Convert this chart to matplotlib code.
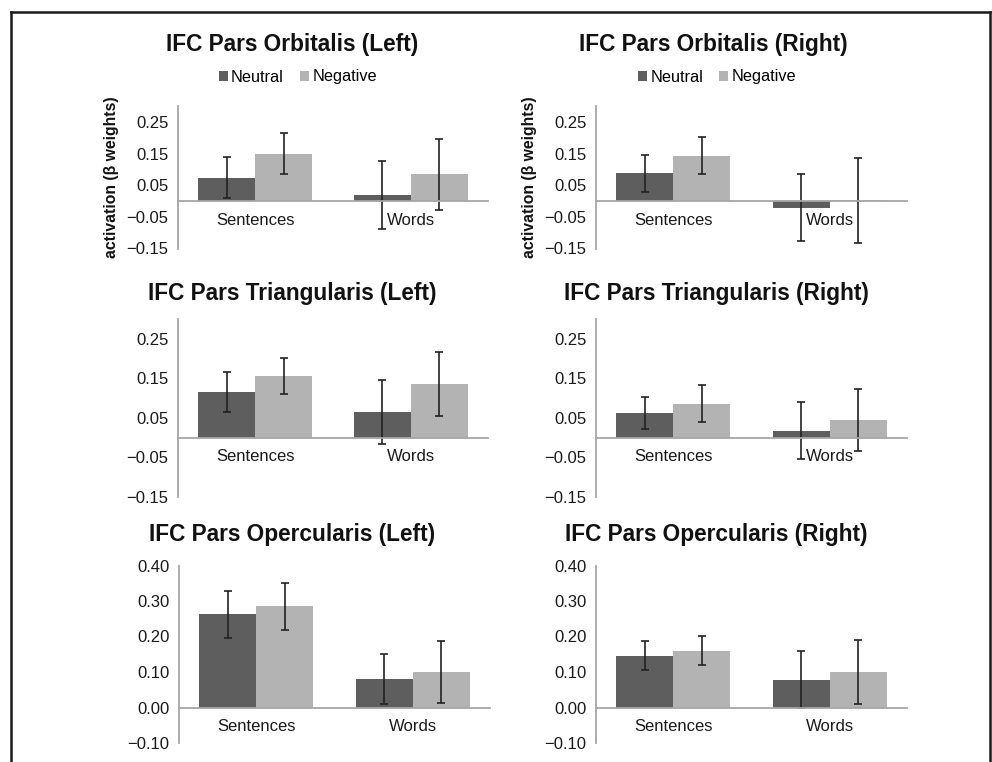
import numpy as np
import matplotlib
matplotlib.use('Agg')
import matplotlib.pyplot as plt
from matplotlib.lines import Line2D
from matplotlib.ticker import FuncFormatter

plt.rcParams['font.family'] = ['Liberation Sans', 'DejaVu Sans']

# data, panel order: TL, TR, ML, MR, BL, BR
categories = ['Sentences', 'Words']
titles = ['IFC Pars Orbitalis (Left)', 'IFC Pars Orbitalis (Right)',
          'IFC Pars Triangularis (Left)', 'IFC Pars Triangularis (Right)',
          'IFC Pars Opercularis (Left)', 'IFC Pars Opercularis (Right)']
neutral_mean = [[0.073, 0.018], [0.087, -0.021], [0.116, 0.065],
                [0.062, 0.018], [0.262, 0.080], [0.146, 0.078]]
neutral_err = [[0.065, 0.107], [0.059, 0.106], [0.051, 0.080],
               [0.040, 0.071], [0.066, 0.071], [0.041, 0.080]]
negative_mean = [[0.150, 0.084], [0.143, 0.002], [0.156, 0.136],
                 [0.086, 0.045], [0.285, 0.100], [0.160, 0.100]]
negative_err = [[0.066, 0.113], [0.059, 0.135], [0.045, 0.081],
                [0.046, 0.079], [0.066, 0.086], [0.041, 0.089]]
yticks_small = [-0.15, -0.05, 0.05, 0.15, 0.25]
yticks_big = [-0.10, 0.00, 0.10, 0.20, 0.30, 0.40]

W, H = 992, 762
fig = plt.figure(figsize=(W / 100, H / 100), dpi=100)

# axes boxes in pixels: left, top, right, bottom
boxes = [(178, 106, 488, 248.5), (596, 106, 907, 248.5),
         (178, 319, 488, 497), (596, 319, 907, 497),
         (179, 565.5, 490, 743), (596, 565.5, 907, 743)]
title_pos = [(292, 45), (713, 45), (292, 293), (716, 293), (292, 535), (716, 535)]

c_neu = '#5e5e5e'
c_neg = '#b3b3b3'
c_axis = '#a6a6a6'
bw = 0.365
x = np.arange(len(categories))

fmt = FuncFormatter(lambda v, p: ('%.2f' % v).replace('-', '\u2212'))

for i in range(6):
    l, t, r, b = boxes[i]
    ax = fig.add_axes([l / W, 1 - b / H, (r - l) / W, (b - t) / H])
    eb = dict(ecolor='#222222', elinewidth=1.2, capsize=3, capthick=1.2)
    h1 = ax.bar(x - bw / 2, neutral_mean[i], bw, yerr=neutral_err[i],
                color=c_neu, error_kw=eb, label='Neutral', zorder=2)
    h2 = ax.bar(x + bw / 2, negative_mean[i], bw, yerr=negative_err[i],
                color=c_neg, error_kw=eb, label='Negative', zorder=2)
    ax.set_xlim(-0.495, 1.495)
    if i < 4:
        ax.set_ylim(-0.15, 0.30)
        ax.set_yticks(yticks_small)
    else:
        ax.set_ylim(-0.10, 0.40)
        ax.set_yticks(yticks_big)
    ax.yaxis.set_major_formatter(fmt)
    ax.set_xticks(x)
    ax.set_xticklabels(categories)
    ax.spines['top'].set_visible(False)
    ax.spines['right'].set_visible(False)
    ax.spines['bottom'].set_position(('data', 0))
    ax.spines['bottom'].set_color(c_axis)
    ax.spines['bottom'].set_linewidth(1.3)
    ax.spines['left'].set_color(c_axis)
    ax.spines['left'].set_linewidth(1.3)
    ax.tick_params(axis='both', length=0, labelsize=12, colors='#1a1a1a')
    ax.tick_params(axis='y', pad=7)
    ax.tick_params(axis='x', pad=8.5)
    ax.patch.set_visible(False)

    fig.text(title_pos[i][0] / W, 1 - title_pos[i][1] / H, titles[i],
             ha='center', va='center', fontsize=16.3, fontweight='bold', color='#111111')

    if i < 2:
        ax.set_ylabel('activation (β weights)', fontsize=11.3, fontweight='bold',
                      labelpad=5, color='#111111')
        leg_x = 298 if i == 0 else 717
        fig.legend(handles=[h1, h2], loc='center',
                   bbox_to_anchor=(leg_x / W, 1 - 77 / H), ncol=2, frameon=False,
                   fontsize=11.7, handlelength=0.55, handleheight=0.55,
                   handletextpad=0.2, columnspacing=1.0, borderpad=0)

# outer frame (left, top, right)
frame_kw = dict(color='#1a1a1a', linewidth=1.8, transform=fig.transFigure)
fig.add_artist(Line2D([11 / W, 11 / W], [0, 1 - 12 / H], **frame_kw))
fig.add_artist(Line2D([11 / W, 990 / W], [1 - 12 / H, 1 - 12 / H], **frame_kw))
fig.add_artist(Line2D([990 / W, 990 / W], [0, 1 - 12 / H], **frame_kw))

fig.savefig('out.png', dpi=100)
